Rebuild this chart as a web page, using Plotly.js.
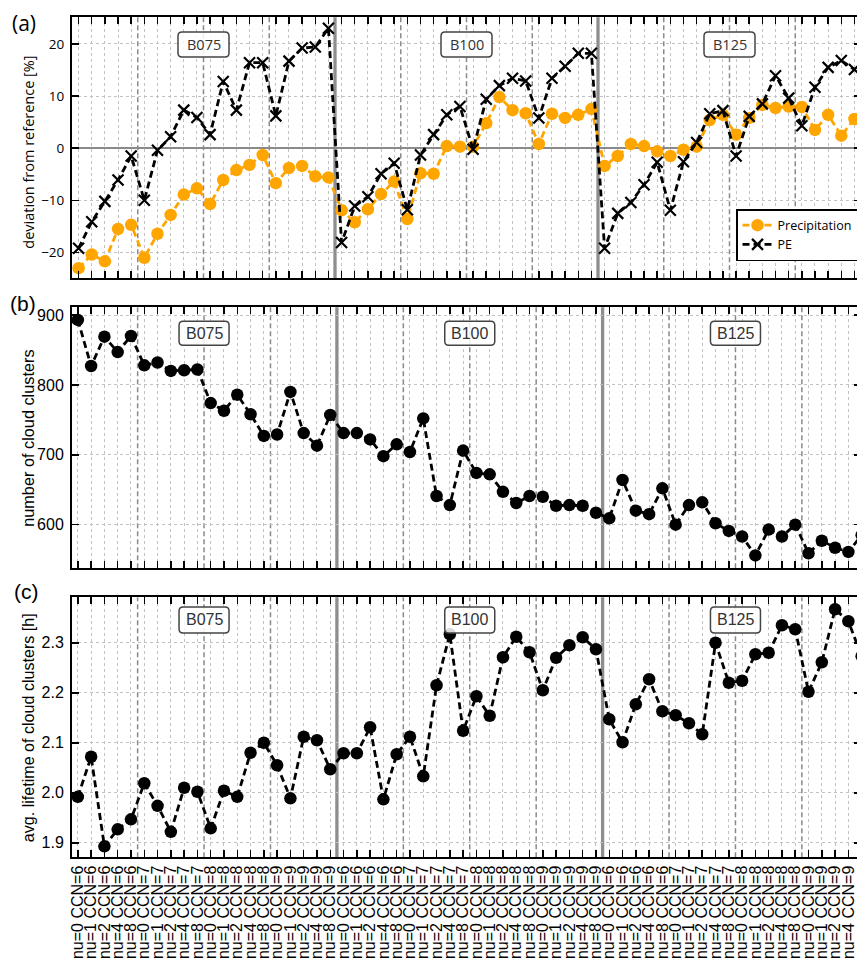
<!DOCTYPE html>
<html>
<head>
<meta charset="utf-8">
<script src="https://cdn.plot.ly/plotly-3.0.1.min.js"></script>
<style>
html, body { margin: 0; padding: 0; overflow: hidden; background: #fff; }
#chart { width: 865px; height: 961px; }
</style>
</head>
<body>
<div id="chart"></div>
<script>
// ---- data ----
const blockNames = ['B075', 'B100', 'B125'];
const ccnValues = [6, 7, 8, 9];
const nuValues = [0, 1, 2, 4, 8];

const precipitation = [-23.0, -20.4, -21.7, -15.5, -14.7, -21.0, -16.4, -12.8, -8.9, -7.7, -10.7, -6.1, -4.2, -3.2, -1.3, -6.7, -3.8, -3.4, -5.4, -5.6,
  -11.9, -14.2, -11.7, -8.8, -6.4, -13.6, -4.8, -4.9, 0.4, 0.3, 0.3, 4.8, 9.8, 7.3, 6.7, 0.8, 6.6, 5.8, 6.4, 7.5,
  -3.4, -1.5, 0.8, 0.4, -0.6, -1.5, -0.3, 0.3, 5.4, 6.4, 2.6, 5.8, 8.3, 7.7, 8.0, 7.9, 3.5, 6.4, 2.4, 5.6];

const pe = [-19.2, -14.1, -10.2, -6.1, -1.5, -10.0, -0.4, 2.2, 7.3, 5.9, 2.6, 12.8, 7.3, 16.4, 16.4, 6.2, 16.7, 19.2, 19.4, 23.0,
  -18.1, -11.1, -9.3, -4.9, -2.9, -11.8, -1.3, 2.6, 6.4, 8.0, -0.2, 9.4, 12.0, 13.4, 12.9, 5.8, 13.4, 15.7, 18.2, 18.2,
  -19.2, -12.5, -10.4, -7.0, -2.7, -11.9, -2.6, 1.1, 6.6, 7.2, -1.5, 6.1, 8.5, 13.9, 9.6, 4.3, 11.7, 15.5, 16.8, 15.1];

const cloudClusters = [893, 827, 869, 847, 870, 828, 832, 820, 821, 822, 774, 763, 786, 758, 727, 729, 790, 731, 713, 757,
  731, 731, 722, 698, 715, 704, 752, 641, 628, 706, 674, 672, 647, 631, 641, 640, 627, 628, 627, 617,
  609, 664, 620, 615, 652, 600, 628, 632, 602, 591, 583, 556, 593, 583, 600, 559, 577, 567, 561, 585];

const lifetime = [1.992, 2.072, 1.893, 1.927, 1.947, 2.019, 1.974, 1.922, 2.010, 2.002, 1.929, 2.004, 1.992, 2.080, 2.100, 2.055, 1.989, 2.112, 2.105, 2.047,
  2.079, 2.079, 2.131, 1.987, 2.077, 2.112, 2.033, 2.215, 2.317, 2.124, 2.193, 2.154, 2.271, 2.312, 2.281, 2.205, 2.270, 2.295, 2.311, 2.287,
  2.147, 2.101, 2.177, 2.227, 2.163, 2.155, 2.139, 2.117, 2.300, 2.220, 2.224, 2.277, 2.280, 2.335, 2.327, 2.202, 2.261, 2.367, 2.343, 2.273];

const axisTitles = ['deviation from reference [%]', 'number of cloud clusters', 'avg. lifetime of cloud clusters [h]'];
const panelLabels = ['(a)', '(b)', '(c)'];

// tick labels
const tickLabels = [];
blockNames.forEach(() => ccnValues.forEach(c => nuValues.forEach(n => tickLabels.push('nu=' + n + ' CCN=' + c))));
const xIdx = tickLabels.map((_, i) => i);

// ---- styling ----
const FA = 'Open Sans, Noto Sans, sans-serif';
const FB = 'Liberation Sans, Arial, sans-serif';
const BLACK = '#000';

function xAxis(range, showLabels) {
  return {
    range: range, tickmode: 'array', tickvals: xIdx, ticktext: tickLabels,
    showticklabels: showLabels, tickangle: -90,
    tickfont: {family: FB, size: 16, color: BLACK},
    ticks: 'inside', ticklen: 7, tickwidth: 1.5, tickcolor: BLACK,
    showline: true, linecolor: BLACK, linewidth: 2, mirror: 'ticks',
    showgrid: true, gridcolor: '#c2c2c2', griddash: 'dot', gridwidth: 1,
    zeroline: false, automargin: false, fixedrange: true
  };
}
function yAxis(domain, range, dtick, font, fsize, fmt, anchor) {
  return {
    domain: domain, range: range, anchor: anchor, dtick: dtick, tick0: 0, tickformat: fmt,
    tickfont: {family: font, size: fsize, color: BLACK}, ticklabelstandoff: 3,
    ticks: 'inside', ticklen: 7, tickwidth: 1.5, tickcolor: BLACK,
    showline: true, linecolor: BLACK, linewidth: 2, mirror: 'ticks',
    showgrid: true, gridcolor: '#c2c2c2', griddash: 'dot', gridwidth: 1,
    zeroline: false, automargin: false, fixedrange: true
  };
}

const dashLine = '7px,4px';
const traces = [
  {x: xIdx, y: precipitation, name: 'Precipitation', mode: 'lines+markers', xaxis: 'x', yaxis: 'y',
   line: {color: '#FFA500', width: 2.8, dash: dashLine}, marker: {color: '#FFA500', size: 12.5}},
  {x: xIdx, y: pe, name: 'PE', mode: 'lines+markers', xaxis: 'x', yaxis: 'y',
   line: {color: BLACK, width: 2.8, dash: dashLine},
   marker: {symbol: 'x-thin', size: 11, color: BLACK, line: {color: BLACK, width: 2.2}}},
  {x: xIdx, y: cloudClusters, mode: 'lines+markers', xaxis: 'x2', yaxis: 'y2', showlegend: false,
   line: {color: BLACK, width: 2.8, dash: dashLine}, marker: {color: BLACK, size: 12.5}},
  {x: xIdx, y: lifetime, mode: 'lines+markers', xaxis: 'x3', yaxis: 'y3', showlegend: false,
   line: {color: BLACK, width: 2.8, dash: dashLine}, marker: {color: BLACK, size: 12.5}}
];

// separators between CCN groups and blocks
const groupSize = nuValues.length;
const blockSize = nuValues.length * ccnValues.length;
const shapes = [];
const annotations = [];
const panels = [
  {x: 'x', y: 'y', boxY: 19.9, font: FA, fsize: 14.5, w: 51, h: 25, tsize: 14.5, tx: -0.0545, ty: 0.485,
   lx: -0.0786, ly: 0.976},
  {x: 'x2', y: 'y2', boxY: 874, font: FB, fsize: 16, w: 50, h: 24, tsize: 16.3, tx: -0.0558, ty: 0.5,
   lx: -0.0811, ly: 0.6847},
  {x: 'x3', y: 'y3', boxY: 2.3456, font: FB, fsize: 16, w: 50, h: 26, tsize: 16.1, tx: -0.0558, ty: 0.5,
   lx: -0.076, ly: 0.384}
];
function roundRect(w, h, r) {
  const a = w / 2, b = h / 2;
  return 'M ' + (-a + r) + ',' + (-b) + ' L ' + (a - r) + ',' + (-b) + ' Q ' + a + ',' + (-b) + ' ' + a + ',' + (-b + r) +
    ' L ' + a + ',' + (b - r) + ' Q ' + a + ',' + b + ' ' + (a - r) + ',' + b +
    ' L ' + (-a + r) + ',' + b + ' Q ' + (-a) + ',' + b + ' ' + (-a) + ',' + (b - r) +
    ' L ' + (-a) + ',' + (-b + r) + ' Q ' + (-a) + ',' + (-b) + ' ' + (-a + r) + ',' + (-b) + ' Z';
}
panels.forEach((p, pi) => {
  for (let k = groupSize; k < tickLabels.length; k += groupSize) {
    const pos = k - 0.5;
    const thick = (k % blockSize === 0);
    shapes.push({type: 'line', xref: p.x, yref: p.y + ' domain', x0: pos, x1: pos, y0: 0, y1: 1, layer: 'below',
      line: thick ? {color: '#8e8e8e', width: 3.3} : {color: '#8a8a8a', width: 1.5, dash: '5px,3px'}});
  }
  blockNames.forEach((name, bi) => {
    const cx = bi * blockSize + (blockSize - 1) / 2;
    shapes.push({type: 'path', xref: p.x, yref: p.y, xsizemode: 'pixel', ysizemode: 'pixel',
      xanchor: cx, yanchor: p.boxY, path: roundRect(p.w, p.h, 4), layer: 'above',
      fillcolor: 'rgba(255,255,255,0.85)', line: {color: '#444', width: 1.5}});
    annotations.push({xref: p.x, yref: p.y, x: cx, y: p.boxY, text: name, showarrow: false,
      xanchor: 'center', yanchor: 'middle', font: {family: p.font, size: p.fsize, color: '#333'}});
  });
  // axis title as rotated text
  annotations.push({xref: 'paper', yref: p.y + ' domain', x: p.tx, y: p.ty, xanchor: 'center', yanchor: 'middle',
    textangle: -90, text: axisTitles[pi], showarrow: false, font: {family: p.font, size: p.tsize, color: BLACK}});
  // panel label
  annotations.push({xref: 'paper', yref: 'paper', x: p.lx, y: p.ly, xanchor: 'left', yanchor: 'middle',
    text: panelLabels[pi], showarrow: false, font: {family: p.font, size: 21, color: BLACK}});
});

const layout = {
  width: 865, height: 961,
  margin: {l: 72, r: 4, t: 0, b: 0, pad: 0},
  paper_bgcolor: '#fff', plot_bgcolor: '#fff',
  showlegend: true,
  legend: {x: 0.8416, y: 0.7825, xanchor: 'left', yanchor: 'top', bgcolor: '#fff',
    bordercolor: BLACK, borderwidth: 1.5, font: {family: FA, size: 12.5, color: BLACK}, tracegroupgap: 0},
  xaxis: Object.assign(xAxis([-0.5, 59.5], false), {anchor: 'y'}),
  xaxis2: Object.assign(xAxis([-0.44, 58.95], false), {anchor: 'y2'}),
  xaxis3: Object.assign(xAxis([-0.44, 58.95], true), {anchor: 'y3'}),
  yaxis: yAxis([0.7104, 0.9820], [-24.95, 25.1], 10, FA, 13.5, '', 'x'),
  yaxis2: yAxis([0.4086, 0.6802], [537.5, 911], 100, FB, 16, '', 'x2'),
  yaxis3: yAxis([0.1079, 0.3785], [1.871, 2.391], 0.1, FB, 16, '.1f', 'x3'),
  shapes: shapes,
  annotations: annotations
};
layout.yaxis.zeroline = true;
layout.yaxis.zerolinecolor = '#8a8a8a';
layout.yaxis.zerolinewidth = 2;

Plotly.newPlot('chart', traces, layout, {displayModeBar: false, staticPlot: true});
</script>
</body>
</html>
